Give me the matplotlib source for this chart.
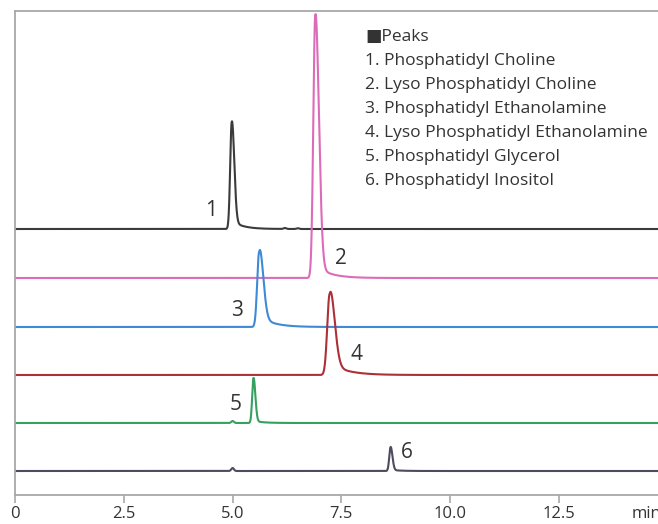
import numpy as np
import matplotlib
matplotlib.use("Agg")
import matplotlib.pyplot as plt

# Peak table: retention time (min), trace colour, baseline offset, peak height
peak_numbers = [1, 2, 3, 4, 5, 6]
peak_names = [
    "Phosphatidyl Choline",
    "Lyso Phosphatidyl Choline",
    "Phosphatidyl Ethanolamine",
    "Lyso Phosphatidyl Ethanolamine",
    "Phosphatidyl Glycerol",
    "Phosphatidyl Inositol",
]
retention_times = [4.98, 6.90, 5.61, 7.23, 5.48, 8.63]
peak_heights = [107, 263, 75, 81, 45, 24]
peak_sigmas = [0.035, 0.045, 0.045, 0.055, 0.03, 0.03]
peak_tailing = [1.6, 1.8, 2.0, 2.0, 1.4, 1.4]
tail_fraction = [0.08, 0.05, 0.15, 0.15, 0.05, 0.05]
baselines = [266, 217, 168, 120, 72, 24]
trace_colors = ["#3b3b3b", "#dc6cb8", "#3f8ad6", "#ac3038", "#35a060", "#4c4c5e"]

# small system peaks near the injection region (time, height) per trace
minor_peaks = [[(6.2, 1.0), (6.5, 0.8)], [], [], [], [(5.0, 2.0)], [(5.0, 3.0)]]

label_x = [4.50, 7.49, 5.10, 7.84, 5.06, 9.01]
label_y = [285, 237, 185, 141, 90, 42]

tick_values = [0, 2.5, 5.0, 7.5, 10.0, 12.5]
tick_labels = ["0", "2.5", "5.0", "7.5", "10.0", "12.5"]

W, H = 658, 524
fig = plt.figure(figsize=(W / 100, H / 100), dpi=100)
ax = fig.add_axes([15 / W, (H - 495) / H, (W - 15) / W, (495 - 11) / H])
x_max = (W - 15) / 43.52
ax.set_xlim(0, x_max)
ax.set_ylim(0, 484)

t = np.linspace(0, x_max, 6000)


def peak(t, rt, h, s, tail, frac):
    left = np.exp(-0.5 * ((t - rt) / s) ** 2)
    right = np.exp(-0.5 * ((t - rt) / (s * tail)) ** 2)
    core = np.where(t < rt, left, right)
    # exponential tail after the apex
    dt = np.clip(t - rt, 0, None)
    tl = np.where(t > rt, frac * np.exp(-dt / (s * 7)) * (1 - np.exp(-dt / s)), 0)
    return h * (core + tl)


for i in range(6):
    y = np.full_like(t, baselines[i], dtype=float)
    y += peak(t, retention_times[i], peak_heights[i], peak_sigmas[i],
              peak_tailing[i], tail_fraction[i])
    for mt, mh in minor_peaks[i]:
        y += mh * np.exp(-0.5 * ((t - mt) / 0.03) ** 2)
    ax.plot(t, y, color=trace_colors[i], lw=1.5, solid_joinstyle="round")
    ax.text(label_x[i], label_y[i], str(peak_numbers[i]), fontsize=15,
            color="#333333", ha="center", va="center", family="Open Sans")

ax.spines["right"].set_visible(False)
for side in ["left", "top", "bottom"]:
    ax.spines[side].set_color("#a8a8a8")
    ax.spines[side].set_linewidth(1.3)

ax.set_yticks([])
ax.set_xticks(tick_values)
ax.set_xticklabels(tick_labels, fontsize=12, color="#333333", family="Open Sans")
ax.tick_params(axis="x", direction="out", length=6, width=1.2, color="#a8a8a8", pad=2)
ax.text(632 / W, (H - 514) / H, "min", transform=fig.transFigure, fontsize=12,
        color="#333333", va="center", ha="left", family="Open Sans")

# legend block
fig.text(365 / W, 1 - 37 / H, "■Peaks", fontsize=12.5, color="#333333",
         va="center", ha="left", family=["Open Sans", "DejaVu Sans"])
for k, name in enumerate(peak_names):
    fig.text(365 / W, 1 - (61 + 24 * k) / H, f"{peak_numbers[k]}. {name}", fontsize=12.5,
             color="#333333", va="center", ha="left", family="Open Sans")

fig.savefig("out.png", dpi=100)
